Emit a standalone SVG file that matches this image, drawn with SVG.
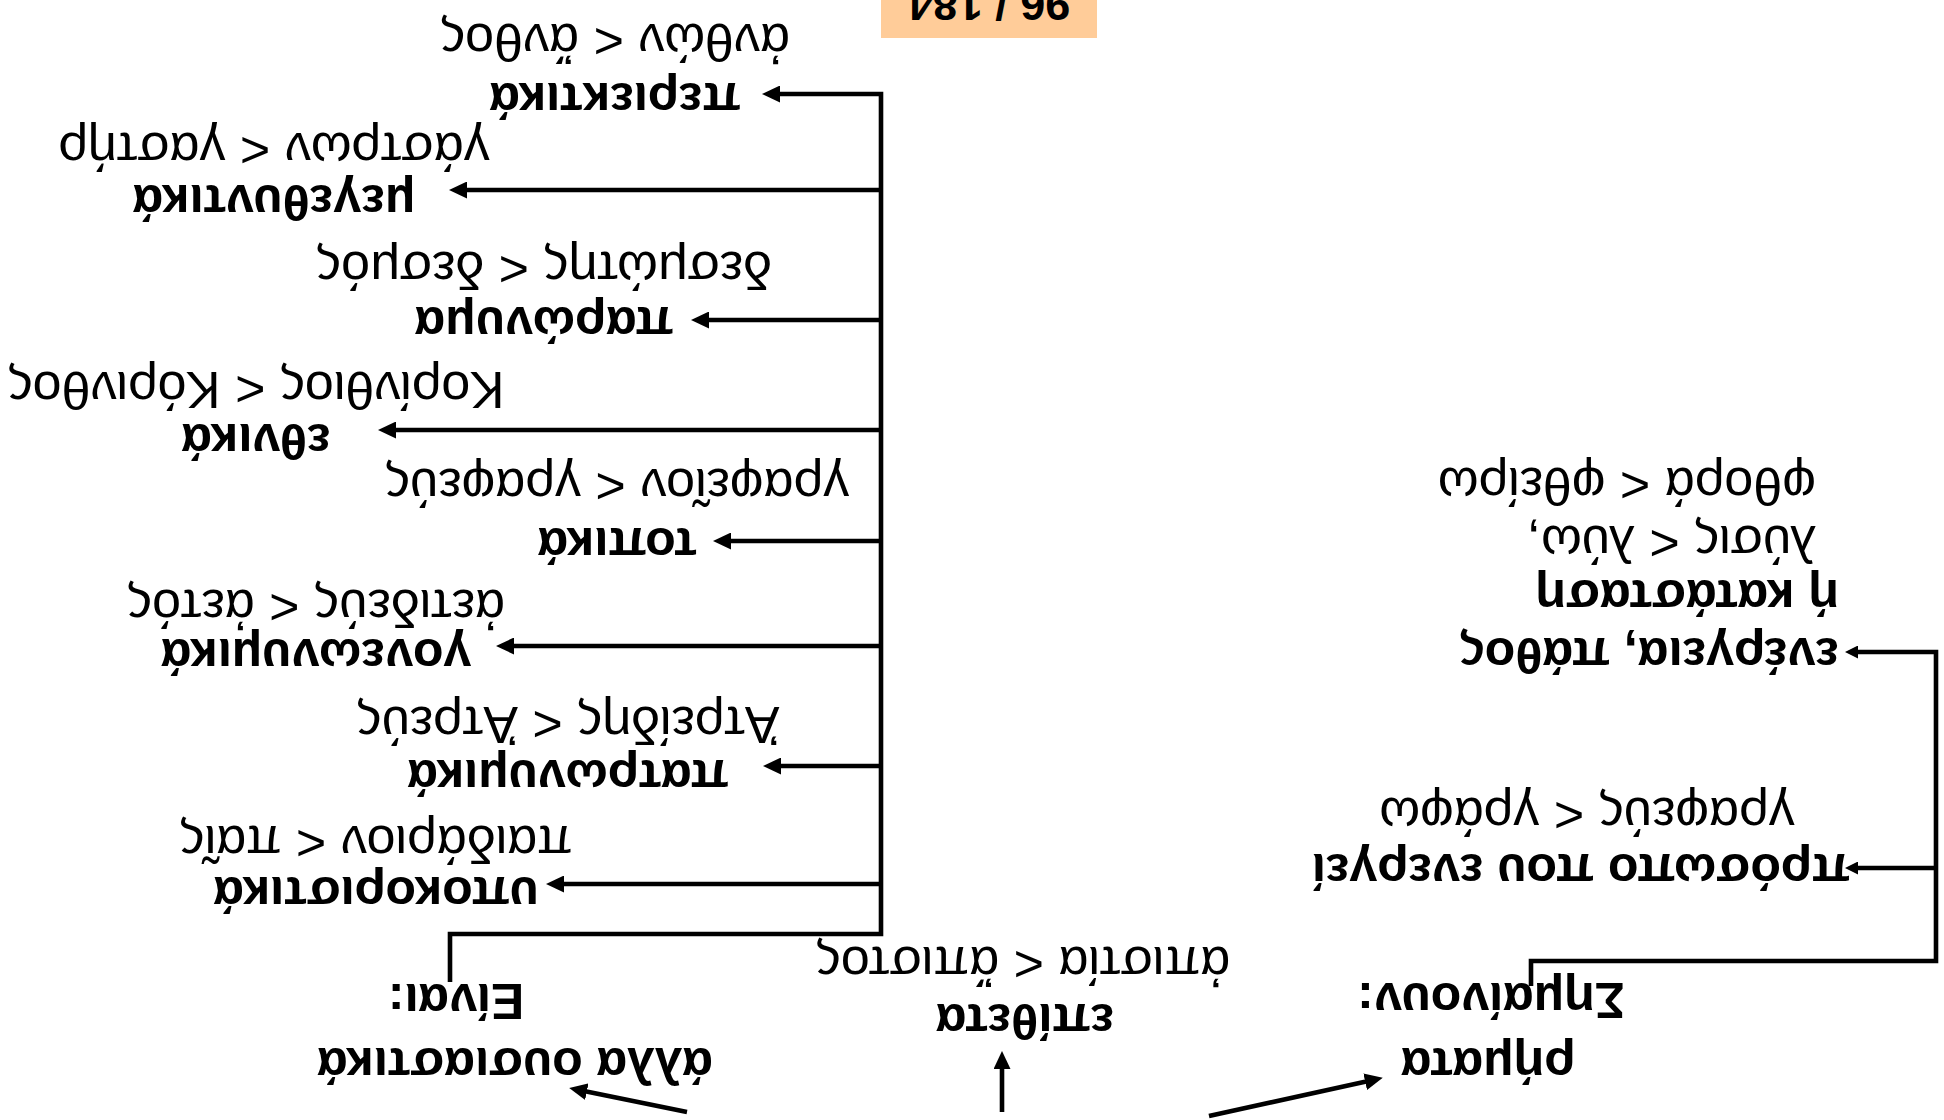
<svg xmlns="http://www.w3.org/2000/svg" width="1944" height="1120" viewBox="0 0 1944 1120">
<style>
.lbl{font-family:"Liberation Sans",Arial,sans-serif;font-weight:bold;font-size:50px;fill:#000}
.ex{font-family:"Liberation Sans",Arial,sans-serif;font-size:52px;fill:#000}
.c{text-anchor:middle}
.ln{stroke:#000;stroke-width:4.6;fill:none}
.big{marker-end:url(#ah)}
.sm{marker-end:url(#as)}
</style>
<defs>
<marker id="ah" viewBox="0 0 18 17" refX="8" refY="8.5" markerWidth="18" markerHeight="17" orient="auto" markerUnits="userSpaceOnUse"><path d="M0,0 L18,8.5 L0,17 z" fill="#000"/></marker>
<marker id="as" viewBox="0 0 13 13" refX="6" refY="6.5" markerWidth="13" markerHeight="13" orient="auto" markerUnits="userSpaceOnUse"><path d="M0,0 L13,6.5 L0,13 z" fill="#000"/></marker>
</defs>
<rect width="1944" height="1120" fill="#fff"/>
<g transform="rotate(180 972 560)">
<g id="connectors">
<path class="ln big" d="M1494,138 V186 H1063 V1026 H1172"/>
<path class="ln big" d="M1063,930 H1485"/>
<path class="ln big" d="M1063,800 H1243"/>
<path class="ln big" d="M1063,690 H1556"/>
<path class="ln big" d="M1063,579 H1221"/>
<path class="ln big" d="M1063,474 H1438"/>
<path class="ln big" d="M1063,354 H1171"/>
<path class="ln big" d="M1063,236 H1388"/>
<path class="ln sm" d="M413,134 V159 H8 V468 H92"/>
<path class="ln sm" d="M8,252 H92"/>
<path class="ln big" d="M1257,8 L1365,30"/>
<path class="ln big" d="M942,8 V59"/>
<path class="ln big" d="M735,4 L571,40"/>
</g>
<g id="n-periektika"><text class="lbl c" x="1329" y="1037">περιεκτικά</text><text class="ex c" x="1329" y="1096">ἀνθών &lt; ἄνθος</text></g>
<g id="n-megethyntika"><text class="lbl c" x="1670" y="935">μεγεθυντικά</text><text class="ex c" x="1670" y="987">γάστρων &lt; γαστήρ</text></g>
<g id="n-paronyma"><text class="lbl c" x="1400" y="813">παρώνυμα</text><text class="ex c" x="1400" y="868">δεσμώτης &lt; δεσμός</text></g>
<g id="n-ethnika"><text class="lbl c" x="1688" y="696">εθνικά</text><text class="ex c" x="1688" y="748">Κορίνθιος &lt; Κόρινθος</text></g>
<g id="n-topika"><text class="lbl c" x="1327" y="592">τοπικά</text><text class="ex c" x="1327" y="651">γραφεῖον &lt; γραφεύς</text></g>
<g id="n-goneonymika"><text class="lbl c" x="1628" y="481">γονεωνυμικά</text><text class="ex c" x="1628" y="530">ἀετιδεύς &lt; ἀετός</text></g>
<g id="n-patronymika"><text class="lbl c" x="1376" y="360">πατρωνυμικά</text><text class="ex c" x="1376" y="413">Ἀτρείδης &lt; Ἀτρεύς</text></g>
<g id="n-ypokoristika"><text class="lbl c" x="1568" y="243">υποκοριστικά</text><text class="ex c" x="1568" y="294">παιδάριον &lt; παῖς</text></g>
<g id="n-alla"><text class="lbl c" x="1429" y="72">άλλα ουσιαστικά</text><text class="lbl c" x="1488" y="136">Είναι:</text></g>
<g id="n-epitheta"><text class="lbl c" x="919" y="116">επίθετα</text><text class="ex c" x="921" y="173">ἀπιστία &lt; ἄπιστος</text></g>
<g id="n-rimata"><text class="lbl c" x="456" y="72">ρήματα</text><text class="lbl c" x="453" y="137">Σημαίνουν:</text></g>
<g id="n-prosopo"><text class="lbl c" x="363" y="266">πρόσωπο που ενεργεί</text><text class="ex c" x="357" y="322">γραφεύς &lt; γράφω</text></g>
<g id="n-energeia"><text class="lbl" x="105" y="482">ενέργεια, πάθος</text><text class="lbl" x="105" y="540">ή κατάσταση</text><text class="ex" x="128" y="594">λύσις &lt; λύω,</text><text class="ex" x="128" y="652">φθορά &lt; φθείρω</text></g>
<g id="page"><rect x="847" y="1082" width="216" height="45" fill="#FFCC99"/><text class="lbl c" style="font-size:45px" x="955" y="1131">96 / 184</text></g>
</g>
</svg>
